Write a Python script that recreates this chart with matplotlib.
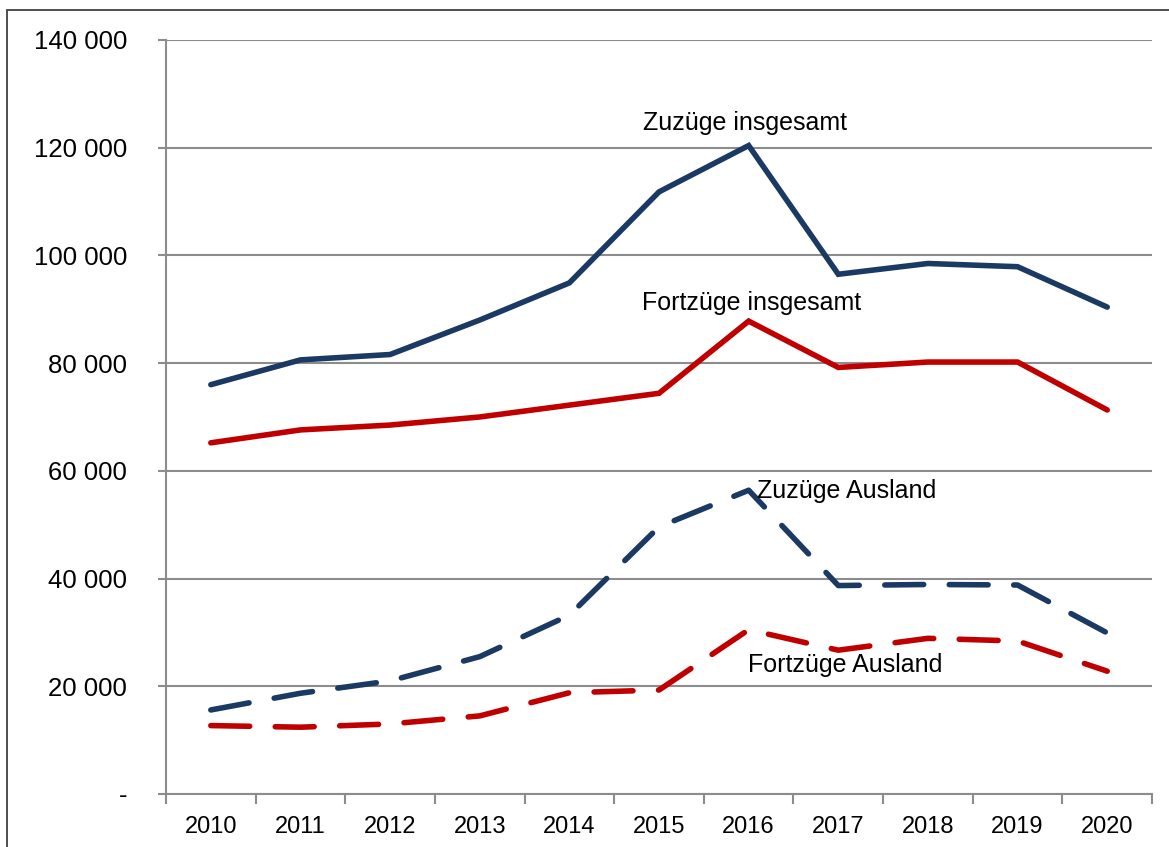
import matplotlib.pyplot as plt
from matplotlib.patches import Rectangle
from matplotlib.ticker import FuncFormatter
import numpy as np

plt.rcParams['font.family'] = ['Liberation Sans', 'DejaVu Sans']

years = ["2010", "2011", "2012", "2013", "2014", "2015", "2016", "2017", "2018", "2019", "2020"]
zuzuege_gesamt = [76000, 80600, 81600, 88000, 94900, 111800, 120400, 96500, 98500, 97900, 90400]
fortzuege_gesamt = [65200, 67600, 68500, 70000, 72200, 74400, 87800, 79200, 80200, 80200, 71300]
zuzuege_ausland = [15600, 18700, 21000, 25500, 33200, 49600, 56400, 38700, 38900, 38800, 29900]
fortzuege_ausland = [12700, 12400, 13000, 14500, 18800, 19300, 30500, 26700, 28900, 28400, 22800]

navy = '#1B3A63'
red = '#C00000'
grid_gray = '#8C8C8C'

fig = plt.figure(figsize=(11.69, 8.47), dpi=100)
ax = fig.add_axes([0.142, 0.0626, 0.8435, 0.8902])

# outer frame (right/bottom edges fall outside the image)
fig.patches.append(Rectangle((7 / 1169, -0.05), 1.2, 1.05 - 10 / 847,
                             transform=fig.transFigure, fill=False,
                             edgecolor='#404040', linewidth=1.3, zorder=0))

x = np.arange(len(years))
lw = 4.0
dash = (7.0, 4.6)

ax.plot(x, zuzuege_gesamt, color=navy, lw=lw, solid_capstyle='round', solid_joinstyle='miter', zorder=3)
ax.plot(x, fortzuege_gesamt, color=red, lw=lw, solid_capstyle='round', solid_joinstyle='miter', zorder=3)
ax.plot(x, zuzuege_ausland, color=navy, lw=lw, dashes=dash, dash_capstyle='round', zorder=3)
ax.plot(x, fortzuege_ausland, color=red, lw=lw, dashes=dash, dash_capstyle='round', zorder=3)

ax.text(5.96, 124600, "Zuzüge insgesamt", fontsize=18, ha='center', va='center')
ax.text(6.03, 91200, "Fortzüge insgesamt", fontsize=18, ha='center', va='center')
ax.text(6.09, 56300, "Zuzüge Ausland", fontsize=18, ha='left', va='center')
ax.text(5.99, 24000, "Fortzüge Ausland", fontsize=18, ha='left', va='center')

ax.set_xlim(-0.5, len(years) - 0.5)
ax.set_ylim(0, 140000)

ax.set_yticks(np.arange(0, 140001, 20000))
ax.yaxis.set_major_formatter(FuncFormatter(
    lambda v, p: '-' if v == 0 else f"{int(v):,}".replace(',', ' ')))
ax.grid(axis='y', color=grid_gray, linewidth=1.5, zorder=1)
ax.set_axisbelow(True)

ax.set_xticks(x)
ax.set_xticklabels(years)
ax.set_xticks(np.arange(-0.5, len(years)), minor=True)
ax.tick_params(axis='x', which='major', length=0, pad=16, labelsize=17)
ax.tick_params(axis='x', which='minor', length=7, width=1.5, color=grid_gray)
ax.tick_params(axis='y', length=6, width=1.5, color=grid_gray, pad=22, labelsize=18.5)

for s in ['top', 'right']:
    ax.spines[s].set_visible(False)
for s in ['left', 'bottom']:
    ax.spines[s].set_color(grid_gray)
    ax.spines[s].set_linewidth(1.5)

fig.savefig('out.png', dpi=100)
